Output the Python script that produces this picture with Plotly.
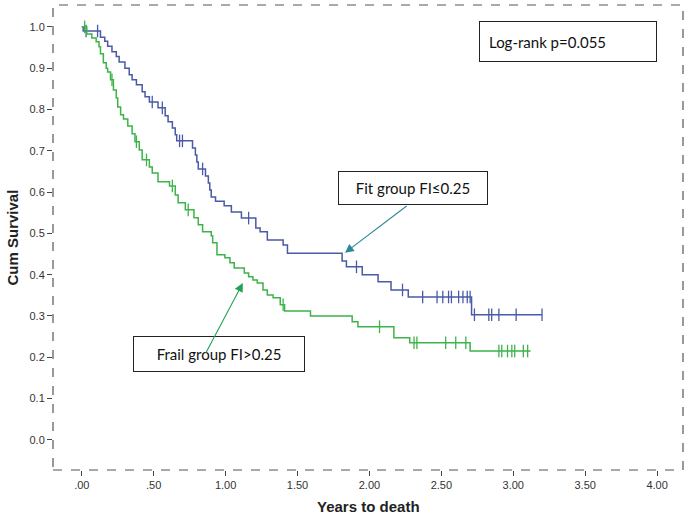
import bisect
import plotly.graph_objects as go

# ---------------- data ----------------
fit_event_times = [0.01, 0.13, 0.16, 0.18, 0.21, 0.24, 0.26, 0.30, 0.33, 0.35, 0.38, 0.42, 0.44,
                   0.47, 0.53, 0.58, 0.60, 0.63, 0.65, 0.66, 0.77, 0.79, 0.80, 0.81, 0.86, 0.88,
                   0.89, 0.90, 0.93, 0.99, 1.04, 1.11, 1.21, 1.24, 1.29, 1.40, 1.43, 1.81, 1.84,
                   1.95, 2.06, 2.15, 2.27, 2.71]
fit_survival = [0.990, 0.975, 0.965, 0.953, 0.940, 0.928, 0.915, 0.900, 0.884, 0.872, 0.860, 0.843,
                0.831, 0.818, 0.804, 0.785, 0.770, 0.755, 0.739, 0.724, 0.707, 0.690, 0.673, 0.656,
                0.639, 0.622, 0.605, 0.588, 0.578, 0.567, 0.552, 0.537, 0.513, 0.504, 0.484, 0.472,
                0.452, 0.433, 0.419, 0.400, 0.383, 0.363, 0.346, 0.303]
fit_censored = [0.03, 0.11, 0.49, 0.56, 0.68, 0.70, 0.84, 1.16, 1.91, 2.23, 2.37, 2.47, 2.51, 2.55,
                2.57, 2.62, 2.65, 2.68, 2.70, 2.73, 2.83, 2.85, 2.90, 3.02, 3.20]
fit_end = 3.20

frail_event_times = [0.035, 0.07, 0.10, 0.12, 0.13, 0.15, 0.17, 0.18, 0.20, 0.22, 0.24, 0.25, 0.27,
                     0.29, 0.32, 0.35, 0.37, 0.40, 0.42, 0.47, 0.49, 0.53, 0.61, 0.65, 0.67, 0.72,
                     0.78, 0.81, 0.84, 0.90, 0.91, 0.94, 0.995, 1.03, 1.06, 1.13, 1.16, 1.19, 1.22,
                     1.26, 1.29, 1.33, 1.38, 1.41, 1.59, 1.88, 1.92, 2.17, 2.28, 2.70]
frail_survival = [0.983, 0.973, 0.964, 0.952, 0.935, 0.913, 0.900, 0.891, 0.872, 0.847, 0.828, 0.806,
                  0.787, 0.777, 0.760, 0.741, 0.722, 0.702, 0.678, 0.661, 0.646, 0.625, 0.615, 0.593,
                  0.574, 0.557, 0.538, 0.521, 0.504, 0.494, 0.477, 0.448, 0.441, 0.429, 0.416, 0.404,
                  0.395, 0.387, 0.380, 0.363, 0.351, 0.344, 0.327, 0.312, 0.300, 0.286, 0.274, 0.247,
                  0.235, 0.215]
frail_censored = [0.02, 0.21, 0.38, 0.45, 0.63, 0.74, 1.40, 2.07, 2.31, 2.33, 2.53, 2.60, 2.67,
                  2.90, 2.92, 2.96, 2.99, 3.01, 3.07, 3.10]
frail_end = 3.12

x_tick_values = [0, 0.5, 1, 1.5, 2, 2.5, 3, 3.5, 4]
x_tick_labels = [".00", ".50", "1.00", "1.50", "2.00", "2.50", "3.00", "3.50", "4.00"]
y_tick_values = [0, 0.1, 0.2, 0.3, 0.4, 0.5, 0.6, 0.7, 0.8, 0.9, 1.0]
y_tick_labels = ["0.0", "0.1", "0.2", "0.3", "0.4", "0.5", "0.6", "0.7", "0.8", "0.9", "1.0"]

FIT_COLOR = "#4a5aa6"
FRAIL_COLOR = "#3db34a"


def step_path(times, surv, end):
    return [0] + list(times) + [end], [1.0] + list(surv) + [surv[-1]]


def surv_at(times, surv, t):
    i = bisect.bisect_right(times, t)
    return 1.0 if i == 0 else surv[i - 1]


fig = go.Figure()

for times, surv, cens, end, color, name in [
    (fit_event_times, fit_survival, fit_censored, fit_end, FIT_COLOR, "Fit"),
    (frail_event_times, frail_survival, frail_censored, frail_end, FRAIL_COLOR, "Frail"),
]:
    xs, ys = step_path(times, surv, end)
    fig.add_trace(go.Scatter(x=xs, y=ys, mode="lines", line=dict(color=color, width=1.5, shape="hv"),
                             name=name, showlegend=False, hoverinfo="skip"))
    fig.add_trace(go.Scatter(x=cens, y=[surv_at(times, surv, c) for c in cens], mode="markers",
                             marker=dict(symbol="line-ns-open", size=9, color=color,
                                         line=dict(color=color, width=1.3)),
                             showlegend=False, name=name + " censored"))

axis_font = dict(family="Arial", size=11, color="#333333")
title_font = dict(family="Arial", size=15, color="#222222")

fig.update_layout(
    width=685, height=514,
    margin=dict(l=53, r=2, t=5, b=44, autoexpand=False),
    plot_bgcolor="white", paper_bgcolor="white",
    xaxis=dict(range=[-0.2, 4.18], tickvals=x_tick_values, ticktext=x_tick_labels,
               ticks="outside", ticklen=5, tickcolor="#444444", showgrid=False, zeroline=False,
               showline=False, tickfont=axis_font, automargin=False),
    yaxis=dict(range=[-0.073, 1.053], tickvals=y_tick_values, ticktext=y_tick_labels,
               ticks="outside", ticklen=5, tickcolor="#444444", showgrid=False, zeroline=False,
               showline=False, tickfont=axis_font, automargin=False),
    shapes=[dict(type="rect", xref="paper", yref="paper", x0=0, x1=1, y0=0, y1=1,
                 line=dict(color="#555555", width=1.2, dash="dash"))],
)

# axis titles
fig.add_annotation(x=0.5, y=0, xref="paper", yref="paper", yshift=-26, yanchor="top",
                   text="<b>Years to death</b>", showarrow=False, font=title_font)
fig.add_annotation(x=0, y=0.5, xref="paper", yref="paper", xshift=-41, xanchor="center",
                   text="<b>Cum Survival</b>", textangle=-90, showarrow=False, font=title_font)

box_font = dict(family="Lato, Open Sans", size=15, color="#111111")

fig.add_annotation(x=3.38, y=0.964, xref="x", yref="y", text="Log-rank p=0.055", showarrow=False,
                   font=box_font, bordercolor="#222222", borderwidth=1, borderpad=9,
                   width=158, height=21, align="left", bgcolor="white")
fig.add_annotation(x=2.30, y=0.610, xref="x", yref="y", text="Fit group FI≤0.25", showarrow=False,
                   font=box_font, bordercolor="#222222", borderwidth=1, borderpad=4,
                   width=140, height=24, align="center", bgcolor="white")
fig.add_annotation(x=0.953, y=0.208, xref="x", yref="y", text="Frail group FI>0.25", showarrow=False,
                   font=box_font, bordercolor="#222222", borderwidth=1, borderpad=4,
                   width=162, height=26, align="center", bgcolor="white")

# arrows
fig.add_annotation(x=1.83, y=0.453, ax=2.269, ay=0.569, xref="x", yref="y", axref="x", ayref="y",
                   text="", showarrow=True, arrowhead=2, arrowsize=1.6, arrowwidth=1.1,
                   arrowcolor="#2b8797")
fig.add_annotation(x=1.12, y=0.380, ax=0.856, ay=0.206, xref="x", yref="y", axref="x", ayref="y",
                   text="", showarrow=True, arrowhead=2, arrowsize=1.6, arrowwidth=1.1,
                   arrowcolor="#22a352")

fig.write_html("out.html", config={"displayModeBar": False},
               post_script="document.body.style.margin='0';")
